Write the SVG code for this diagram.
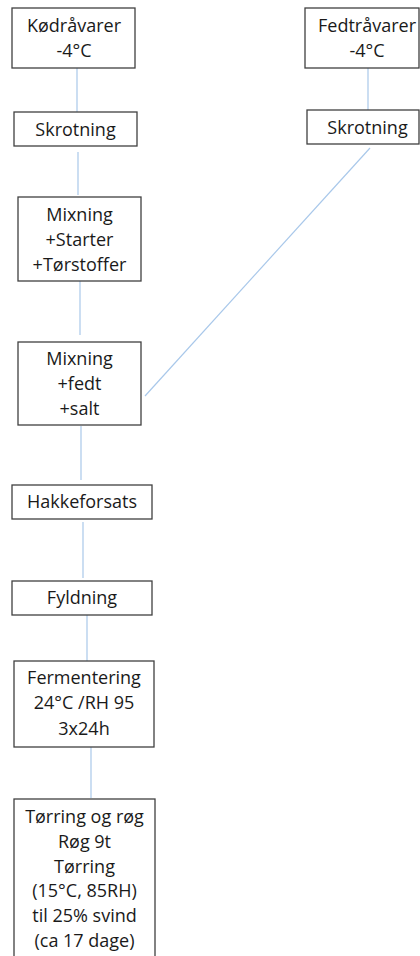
<svg xmlns="http://www.w3.org/2000/svg" width="420" height="956" viewBox="0 0 420 956">
<style>
.box{fill:#fff;stroke:#404040;stroke-width:1.3}
.t{font-family:"Open Sans","Liberation Sans",sans-serif;font-size:18px;fill:#1a1a1a;text-anchor:middle}
.c{stroke:#a9c8ea;stroke-width:1.2;fill:none}
</style>
<rect width="420" height="956" fill="#fff"/>
<g id="connectors">
<line class="c" x1="77" y1="68" x2="77" y2="112"/>
<line class="c" x1="368" y1="68" x2="368" y2="110"/>
<line class="c" x1="78" y1="152" x2="78" y2="195"/>
<line class="c" x1="80" y1="280" x2="80" y2="335"/>
<line class="c" x1="370" y1="148" x2="145" y2="396"/>
<line class="c" x1="81" y1="426" x2="81" y2="480"/>
<line class="c" x1="83" y1="522" x2="83" y2="578"/>
<line class="c" x1="87" y1="612" x2="87" y2="662"/>
<line class="c" x1="91" y1="747" x2="91" y2="798"/>
</g>
<g id="kodravarer">
<rect class="box" x="12" y="8" width="123" height="60"/>
<text class="t" x="74" y="32">Kødråvarer</text>
<text class="t" x="74" y="57">-4°C</text>
</g>
<g id="skrotning1">
<rect class="box" x="14" y="112" width="123" height="34"/>
<text class="t" x="75.5" y="136">Skrotning</text>
</g>
<g id="fedtravarer">
<rect class="box" x="305" y="8" width="114" height="60"/>
<text class="t" x="367" y="32">Fedtråvarer</text>
<text class="t" x="367" y="57">-4°C</text>
</g>
<g id="skrotning2">
<rect class="box" x="307" y="110" width="112" height="34"/>
<text class="t" x="367.5" y="134">Skrotning</text>
</g>
<g id="mixning1">
<rect class="box" x="18" y="197" width="123" height="84"/>
<text class="t" x="79.5" y="221">Mixning</text>
<text class="t" x="79.5" y="246">+Starter</text>
<text class="t" x="79.5" y="271">+Tørstoffer</text>
</g>
<g id="mixning2">
<rect class="box" x="18" y="342" width="123" height="83"/>
<text class="t" x="79.5" y="365">Mixning</text>
<text class="t" x="79.5" y="390">+fedt</text>
<text class="t" x="79.5" y="415">+salt</text>
</g>
<g id="hakkeforsats">
<rect class="box" x="12" y="485" width="140" height="34"/>
<text class="t" x="82" y="508">Hakkeforsats</text>
</g>
<g id="fyldning">
<rect class="box" x="12" y="581" width="140" height="34"/>
<text class="t" x="82" y="604">Fyldning</text>
</g>
<g id="fermentering">
<rect class="box" x="14" y="661" width="140" height="86"/>
<text class="t" x="84" y="684">Fermentering</text>
<text class="t" x="84" y="709">24°C /RH 95</text>
<text class="t" x="84" y="735">3x24h</text>
</g>
<g id="torring">
<rect class="box" x="14" y="799" width="141" height="170"/>
<text class="t" x="84.5" y="823">Tørring og røg</text>
<text class="t" x="84.5" y="848">Røg 9t</text>
<text class="t" x="84.5" y="873">Tørring</text>
<text class="t" x="84.5" y="897">(15°C, 85RH)</text>
<text class="t" x="84.5" y="922">til 25% svind</text>
<text class="t" x="84.5" y="947">(ca 17 dage)</text>
</g>
</svg>
